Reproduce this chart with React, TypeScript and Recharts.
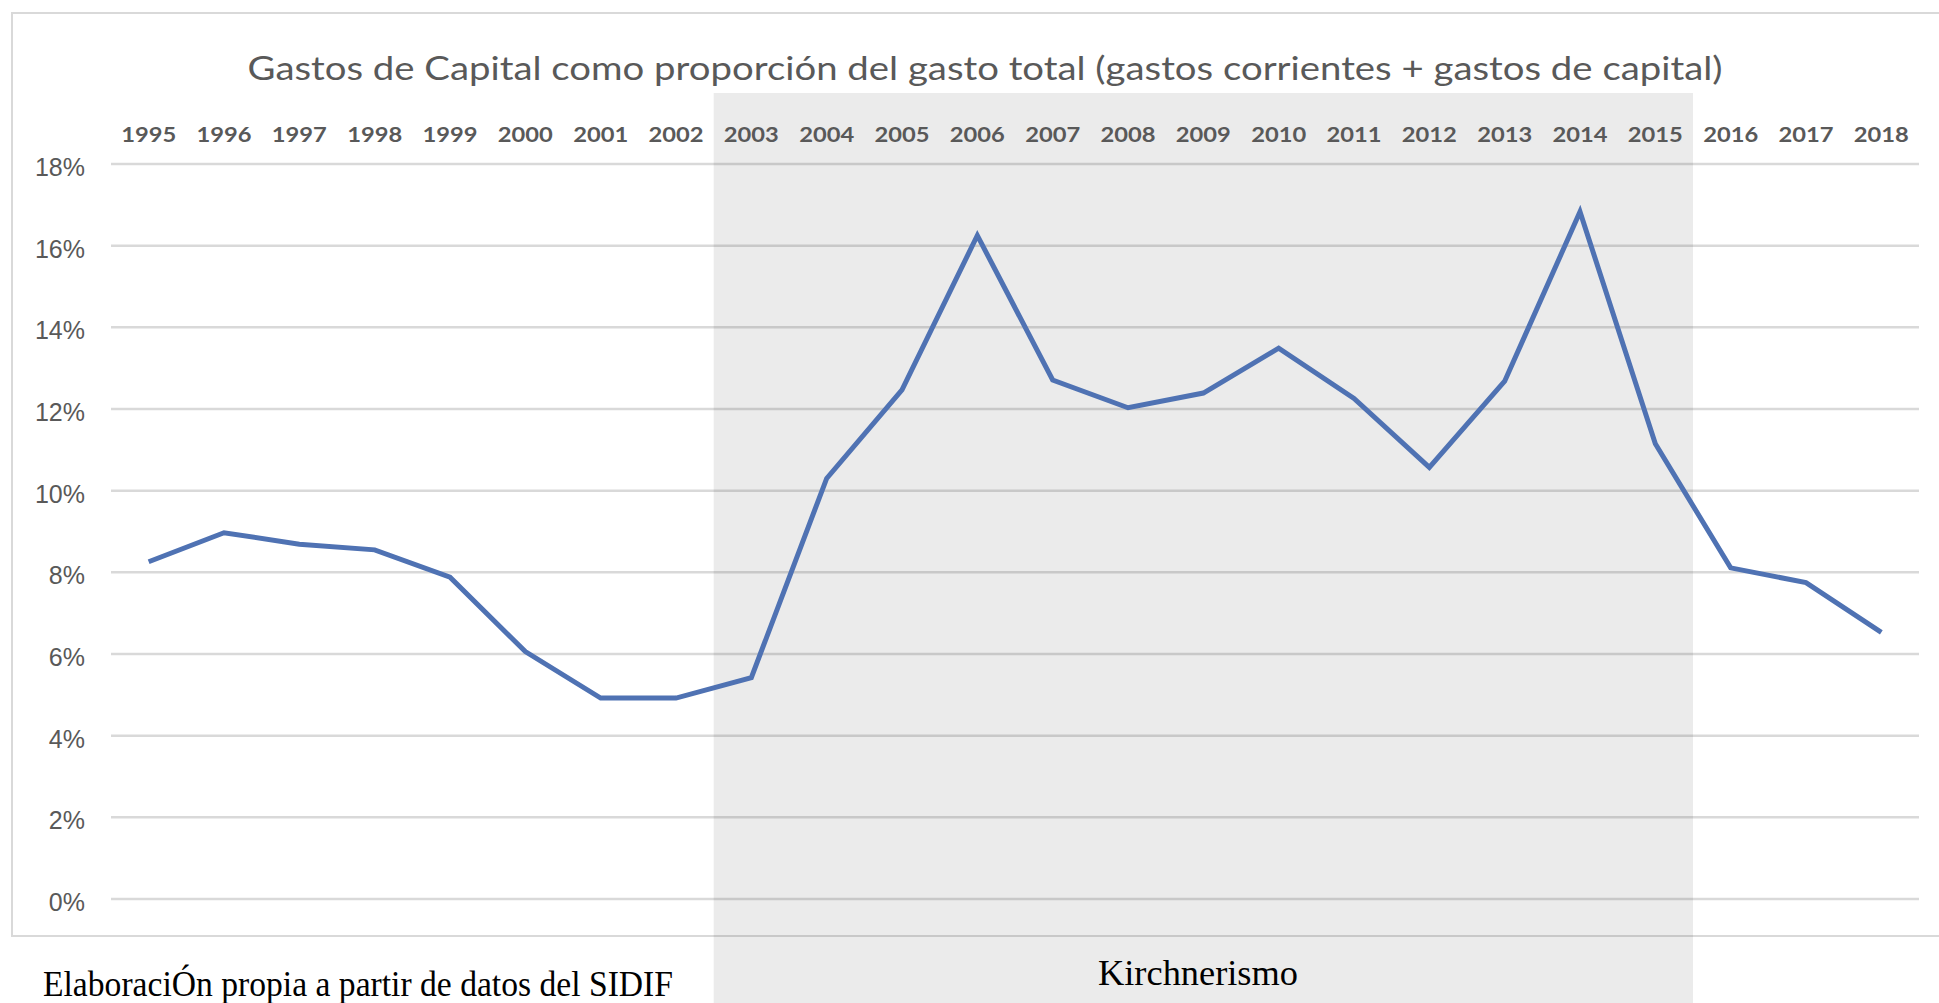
import React from 'react';
import { ComposedChart, Line, XAxis, YAxis, CartesianGrid, ReferenceArea } from 'recharts';

// Gastos de capital / gasto total, en %
const years = [
  '1995', '1996', '1997', '1998', '1999', '2000', '2001', '2002', '2003', '2004', '2005', '2006',
  '2007', '2008', '2009', '2010', '2011', '2012', '2013', '2014', '2015', '2016', '2017', '2018',
];
const capitalShare = [
  8.26, 8.97, 8.69, 8.55, 7.88, 6.06, 4.92, 4.92, 5.42, 10.3, 12.47, 16.25,
  12.71, 12.03, 12.39, 13.49, 12.26, 10.57, 12.68, 16.83, 11.15, 8.11, 7.75, 6.53,
];
const yTicks = [0, 2, 4, 6, 8, 10, 12, 14, 16, 18];
const kirchnerStart = '2003';
const kirchnerEnd = '2015';

const data = years.map((year, i) => ({ year, value: capitalShare[i] }));

const W = 1939;
const H = 1003;
const GREY_TEXT = '#595959';

const YearTick = (props: any) => {
  const { x, y, payload } = props;
  return (
    <text
      x={x}
      y={y}
      textAnchor="middle"
      fontFamily="Lato, 'Open Sans', sans-serif"
      fontWeight={700}
      fontSize={21}
      fill={GREY_TEXT}
      textLength={55}
      lengthAdjust="spacingAndGlyphs"
    >
      {payload.value}
    </text>
  );
};

const PctTick = (props: any) => {
  const { x, y, payload } = props;
  return (
    <text
      x={x}
      y={y + 12}
      textAnchor="end"
      fontFamily="'Liberation Sans', Arial, sans-serif"
      fontSize={25}
      fill={GREY_TEXT}
    >
      {`${payload.value}%`}
    </text>
  );
};

export default function App() {
  return (
    <div style={{ position: 'absolute', left: 0, top: 0, width: W, height: H, background: '#fff', overflow: 'hidden' }}>
      <svg width={W} height={H} style={{ position: 'absolute', left: 0, top: 0 }}>
        <rect x={12} y={13} width={W} height={923} fill="none" stroke="#d9d9d9" strokeWidth={2} />
        <text
          x={985}
          y={80}
          textAnchor="middle"
          fontFamily="Lato, 'Open Sans', sans-serif"
          fontSize={33}
          fill={GREY_TEXT}
          textLength={1475}
          lengthAdjust="spacingAndGlyphs"
        >
          Gastos de Capital como proporción del gasto total (gastos corrientes + gastos de capital)
        </text>
        <text
          x={43}
          y={996}
          fontFamily="'Liberation Serif', 'Times New Roman', serif"
          fontSize={35}
          fill="#000"
          textLength={630}
          lengthAdjust="spacingAndGlyphs"
        >
          ElaboraciÓn propia a partir de datos del SIDIF
        </text>
        <text
          x={1198}
          y={985}
          textAnchor="middle"
          fontFamily="'Liberation Serif', 'Times New Roman', serif"
          fontSize={35}
          fill="#000"
          textLength={200}
          lengthAdjust="spacingAndGlyphs"
        >
          Kirchnerismo
        </text>
      </svg>
      <div style={{ position: 'absolute', left: 0, top: 0 }}>
        <ComposedChart width={W} height={H} data={data} margin={{ top: 124, right: 20, bottom: 104, left: 21 }}>
          <ReferenceArea
            x1={kirchnerStart}
            x2={kirchnerEnd}
            y1={-2.55}
            y2={19.74}
            ifOverflow="visible"
            fill="#000"
            fillOpacity={0.078}
            stroke="none"
          />
          <CartesianGrid vertical={false} stroke="#d9d9d9" strokeWidth={2.5} />
          <XAxis
            dataKey="year"
            orientation="top"
            scale="band"
            height={40}
            axisLine={false}
            tickLine={false}
            tickSize={0}
            tickMargin={22}
            interval={0}
            tick={<YearTick />}
          />
          <YAxis
            domain={[0, 18]}
            ticks={yTicks}
            width={90}
            axisLine={false}
            tickLine={false}
            tickSize={0}
            tickMargin={26}
            tick={<PctTick />}
          />
          <Line
            type="linear"
            dataKey="value"
            stroke="#4f72b3"
            strokeWidth={5}
            dot={false}
            activeDot={false}
            isAnimationActive={false}
          />
        </ComposedChart>
      </div>
    </div>
  );
}
